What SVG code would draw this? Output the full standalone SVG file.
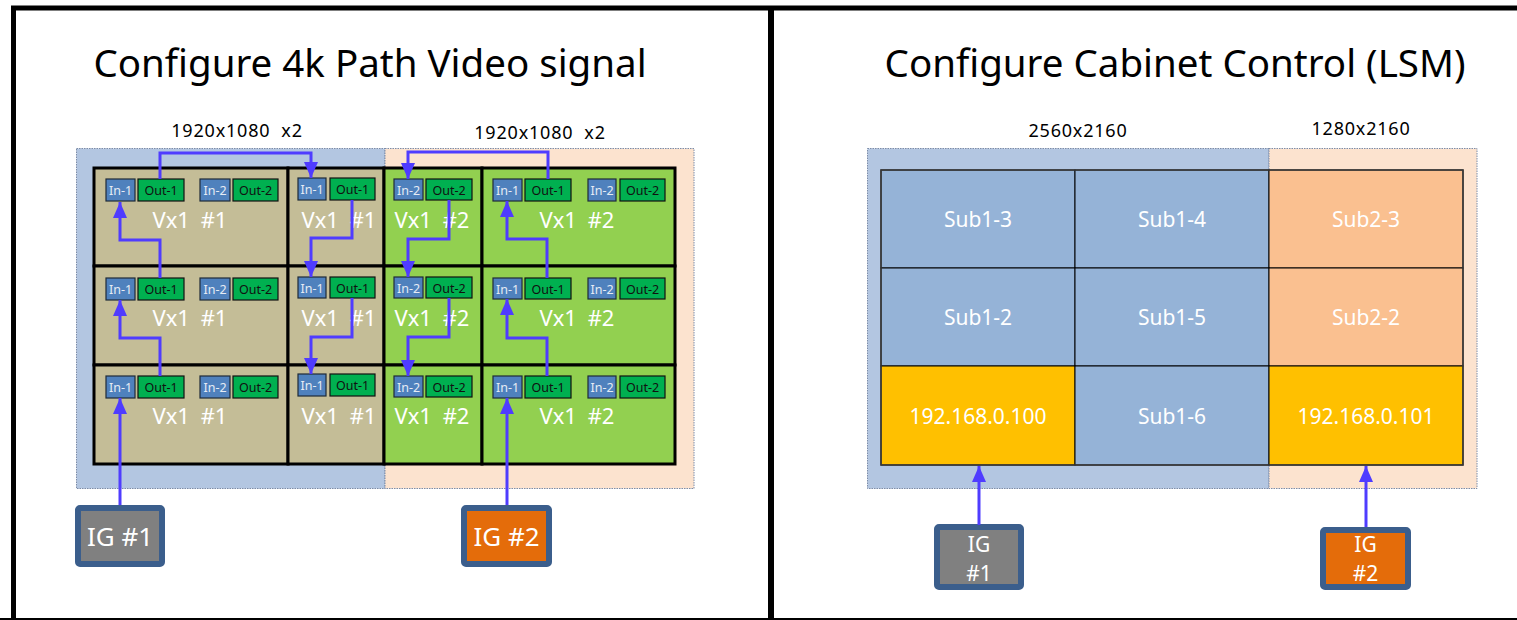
<svg xmlns="http://www.w3.org/2000/svg" width="1517" height="620" viewBox="0 0 1517 620">
<style>
text{font-family:"Noto Sans","Open Sans","Liberation Sans",sans-serif}
.title{font-size:38.5px;fill:#000;text-anchor:middle}
.res{font-size:18px;fill:#000;text-anchor:middle;letter-spacing:0.8px}
.bgb{fill:#b3c6e1;stroke:#7c8ca8;stroke-width:1;stroke-dasharray:1.5 1}
.bgp{fill:#fce3cf;stroke:#7c8ca8;stroke-width:1;stroke-dasharray:1.5 1}
.tan{fill:#c4bd97;stroke:#000;stroke-width:3}
.grn{fill:#92d050;stroke:#000;stroke-width:3}
.pin{fill:#4f81bd;stroke:#1e2a38;stroke-width:1.2}
.pout{fill:#00b050;stroke:#111;stroke-width:1.2}
.tin{font-size:12.5px;fill:#e6ecf5;text-anchor:middle}
.tout{font-size:12.5px;fill:#111;text-anchor:middle}
.vx{font-size:22px;fill:#fff;text-anchor:middle;word-spacing:5px}
.cb{fill:#95b3d7;stroke:#000;stroke-width:1}
.cp{fill:#fac090;stroke:#000;stroke-width:1}
.cy{fill:#ffc000;stroke:#000;stroke-width:1}
.ct{font-size:21px;fill:#fff;text-anchor:middle}
.ig{stroke:#3b5e8c;stroke-width:6}
.igt{font-size:26px;fill:#fff;text-anchor:middle}
.igt2{font-size:21px;fill:#fff;text-anchor:middle}
.con{fill:none;stroke:#4f3cff;stroke-width:3;marker-end:url(#ah)}
.frame{stroke:#000;fill:none}
</style>
<defs>
<marker id="ah" viewBox="0 0 16 14" refX="16" refY="7" markerWidth="16" markerHeight="14" markerUnits="userSpaceOnUse" orient="auto">
<path d="M0,0 L16,7 L0,14 z" fill="#4f3cff"/>
</marker>
</defs>
<rect width="1517" height="620" fill="#fff"/>
<g id="frame">
<line class="frame" x1="11" y1="8" x2="1517" y2="8" stroke-width="5"/>
<line class="frame" x1="13.5" y1="6" x2="13.5" y2="620" stroke-width="5"/>
<line class="frame" x1="771" y1="6" x2="771" y2="620" stroke-width="6"/>
<line class="frame" x1="0" y1="619" x2="1517" y2="619" stroke-width="2"/>
</g>
<g id="left-title">
<text class="title" x="370" y="77">Configure 4k Path Video signal</text>
<text class="res" x="237" y="137" xml:space="preserve">1920x1080  x2</text>
<text class="res" x="540" y="139" xml:space="preserve">1920x1080  x2</text>
</g>
<g id="left-bg">
<rect class="bgb" x="76.5" y="148.5" width="308.5" height="340"/>
<rect class="bgp" x="385" y="148.5" width="309" height="340"/>
</g>
<g id="cell-1-1"><rect class="tan" x="94" y="168" width="194" height="98"/>
<rect class="pin" x="106" y="179" width="29" height="22"/><text class="tin" x="120.5" y="195">In-1</text>
<rect class="pout" x="138" y="179" width="46" height="22"/><text class="tout" x="161" y="195">Out-1</text>
<rect class="pin" x="200" y="179" width="30" height="22"/><text class="tin" x="215" y="195">In-2</text>
<rect class="pout" x="233" y="179" width="45" height="22"/><text class="tout" x="255.5" y="195">Out-2</text>
<text class="vx" x="190" y="228">Vx1 #1</text></g>
<g id="cell-1-2"><rect class="tan" x="288" y="168" width="96" height="98"/>
<rect class="pin" x="298" y="178" width="28" height="22"/><text class="tin" x="312" y="194">In-1</text>
<rect class="pout" x="330" y="178" width="45" height="22"/><text class="tout" x="352.5" y="194">Out-1</text>
<text class="vx" x="339" y="228">Vx1 #1</text></g>
<g id="cell-1-3"><rect class="grn" x="384" y="168" width="98" height="98"/>
<rect class="pin" x="394" y="179" width="29" height="21"/><text class="tin" x="408.5" y="194.5">In-2</text>
<rect class="pout" x="426" y="179" width="46" height="21"/><text class="tout" x="449" y="194.5">Out-2</text>
<text class="vx" x="432" y="228">Vx1 #2</text></g>
<g id="cell-1-4"><rect class="grn" x="482" y="168" width="193" height="98"/>
<rect class="pin" x="493" y="179" width="29" height="22"/><text class="tin" x="507.5" y="195">In-1</text>
<rect class="pout" x="525" y="179" width="46" height="22"/><text class="tout" x="548" y="195">Out-1</text>
<rect class="pin" x="588" y="179" width="28" height="22"/><text class="tin" x="602" y="195">In-2</text>
<rect class="pout" x="620" y="179" width="45" height="22"/><text class="tout" x="642.5" y="195">Out-2</text>
<text class="vx" x="577" y="228">Vx1 #2</text></g>

<g id="cell-2-1"><rect class="tan" x="94" y="266" width="194" height="99"/>
<rect class="pin" x="106" y="278" width="29" height="22"/><text class="tin" x="120.5" y="294">In-1</text>
<rect class="pout" x="138" y="278" width="46" height="22"/><text class="tout" x="161" y="294">Out-1</text>
<rect class="pin" x="200" y="278" width="30" height="22"/><text class="tin" x="215" y="294">In-2</text>
<rect class="pout" x="233" y="278" width="45" height="22"/><text class="tout" x="255.5" y="294">Out-2</text>
<text class="vx" x="190" y="326">Vx1 #1</text></g>
<g id="cell-2-2"><rect class="tan" x="288" y="266" width="96" height="99"/>
<rect class="pin" x="298" y="277" width="28" height="21"/><text class="tin" x="312" y="292.5">In-1</text>
<rect class="pout" x="330" y="277" width="45" height="21"/><text class="tout" x="352.5" y="292.5">Out-1</text>
<text class="vx" x="339" y="326">Vx1 #1</text></g>
<g id="cell-2-3"><rect class="grn" x="384" y="266" width="98" height="99"/>
<rect class="pin" x="394" y="277" width="29" height="21"/><text class="tin" x="408.5" y="292.5">In-2</text>
<rect class="pout" x="426" y="277" width="46" height="21"/><text class="tout" x="449" y="292.5">Out-2</text>
<text class="vx" x="432" y="326">Vx1 #2</text></g>
<g id="cell-2-4"><rect class="grn" x="482" y="266" width="193" height="99"/>
<rect class="pin" x="493" y="278" width="29" height="21"/><text class="tin" x="507.5" y="293.5">In-1</text>
<rect class="pout" x="525" y="278" width="46" height="21"/><text class="tout" x="548" y="293.5">Out-1</text>
<rect class="pin" x="588" y="278" width="28" height="21"/><text class="tin" x="602" y="293.5">In-2</text>
<rect class="pout" x="620" y="278" width="45" height="21"/><text class="tout" x="642.5" y="293.5">Out-2</text>
<text class="vx" x="577" y="326">Vx1 #2</text></g>

<g id="cell-3-1"><rect class="tan" x="94" y="365" width="194" height="99"/>
<rect class="pin" x="106" y="376" width="29" height="22"/><text class="tin" x="120.5" y="392">In-1</text>
<rect class="pout" x="138" y="376" width="46" height="22"/><text class="tout" x="161" y="392">Out-1</text>
<rect class="pin" x="200" y="376" width="30" height="22"/><text class="tin" x="215" y="392">In-2</text>
<rect class="pout" x="233" y="376" width="45" height="22"/><text class="tout" x="255.5" y="392">Out-2</text>
<text class="vx" x="190" y="424">Vx1 #1</text></g>
<g id="cell-3-2"><rect class="tan" x="288" y="365" width="96" height="99"/>
<rect class="pin" x="298" y="374" width="28" height="22"/><text class="tin" x="312" y="390">In-1</text>
<rect class="pout" x="330" y="374" width="45" height="22"/><text class="tout" x="352.5" y="390">Out-1</text>
<text class="vx" x="339" y="424">Vx1 #1</text></g>
<g id="cell-3-3"><rect class="grn" x="384" y="365" width="98" height="99"/>
<rect class="pin" x="394" y="376" width="29" height="21"/><text class="tin" x="408.5" y="391.5">In-2</text>
<rect class="pout" x="426" y="376" width="46" height="21"/><text class="tout" x="449" y="391.5">Out-2</text>
<text class="vx" x="432" y="424">Vx1 #2</text></g>
<g id="cell-3-4"><rect class="grn" x="482" y="365" width="193" height="99"/>
<rect class="pin" x="493" y="376" width="29" height="22"/><text class="tin" x="507.5" y="392">In-1</text>
<rect class="pout" x="525" y="376" width="46" height="22"/><text class="tout" x="548" y="392">Out-1</text>
<rect class="pin" x="588" y="376" width="28" height="22"/><text class="tin" x="602" y="392">In-2</text>
<rect class="pout" x="620" y="376" width="45" height="22"/><text class="tout" x="642.5" y="392">Out-2</text>
<text class="vx" x="577" y="424">Vx1 #2</text></g>

<g id="ig1-left"><rect class="ig" x="78" y="508" width="84" height="56" rx="2" fill="#808080"/><text class="igt" x="120" y="546">IG #1</text></g>
<g id="ig2-left"><rect class="ig" x="464" y="508" width="85" height="56" rx="2" fill="#e46c0a"/><text class="igt" x="506.5" y="546">IG #2</text></g>

<g id="right-title">
<text class="title" x="1175" y="77">Configure Cabinet Control (LSM)</text>
<text class="res" x="1078" y="137">2560x2160</text>
<text class="res" x="1361" y="135">1280x2160</text>
</g>
<g id="right-bg">
<rect class="bgb" x="867.5" y="148.5" width="401.5" height="340"/>
<rect class="bgp" x="1269" y="148.5" width="208" height="340"/>
</g>
<g id="sub1-3"><rect class="cb" x="881" y="170" width="194" height="98"/><text class="ct" x="978" y="227">Sub1-3</text></g>
<g id="sub1-4"><rect class="cb" x="1075" y="170" width="194" height="98"/><text class="ct" x="1172" y="227">Sub1-4</text></g>
<g id="sub2-3"><rect class="cp" x="1269" y="170" width="194" height="98"/><text class="ct" x="1366" y="227">Sub2-3</text></g>
<g id="sub1-2"><rect class="cb" x="881" y="268" width="194" height="98"/><text class="ct" x="978" y="325">Sub1-2</text></g>
<g id="sub1-5"><rect class="cb" x="1075" y="268" width="194" height="98"/><text class="ct" x="1172" y="325">Sub1-5</text></g>
<g id="sub2-2"><rect class="cp" x="1269" y="268" width="194" height="98"/><text class="ct" x="1366" y="325">Sub2-2</text></g>
<g id="ip100"><rect class="cy" x="881" y="366" width="194" height="99"/><text class="ct" x="978" y="424">192.168.0.100</text></g>
<g id="sub1-6"><rect class="cb" x="1075" y="366" width="194" height="99"/><text class="ct" x="1172" y="424">Sub1-6</text></g>
<g id="ip101"><rect class="cy" x="1269" y="366" width="194" height="99"/><text class="ct" x="1366" y="424">192.168.0.101</text></g>
<rect x="881" y="170" width="582" height="295" fill="none" stroke="#3a3a3a" stroke-width="1.5"/>

<g id="ig1-right"><rect class="ig" x="937" y="527" width="84" height="60" rx="2" fill="#808080"/><text class="igt2" x="979" y="552">IG</text><text class="igt2" x="979" y="581">#1</text></g>
<g id="ig2-right"><rect class="ig" x="1323" y="530" width="85" height="57" rx="2" fill="#e46c0a"/><text class="igt2" x="1365.5" y="552">IG</text><text class="igt2" x="1365.5" y="581">#2</text></g>

<g id="connectors">
<path class="con" d="M120,505 V398"/>
<path class="con" d="M160,376 V338 H120 V300"/>
<path class="con" d="M160,278 V240 H120 V202"/>
<path class="con" d="M160,179 V153 H311 V178"/>
<path class="con" d="M352,200 V238 H311 V277"/>
<path class="con" d="M352,298 V337 H311 V374"/>
<path class="con" d="M548,179 V152 H408 V179"/>
<path class="con" d="M449,200 V239 H408 V277"/>
<path class="con" d="M449,298 V337 H408 V376"/>
<path class="con" d="M507,505 V398"/>
<path class="con" d="M547,376 V338 H507 V299"/>
<path class="con" d="M547,278 V239 H507 V201"/>
<path class="con" d="M979,525 V466"/>
<path class="con" d="M1366,527 V466"/>
</g>
</svg>
